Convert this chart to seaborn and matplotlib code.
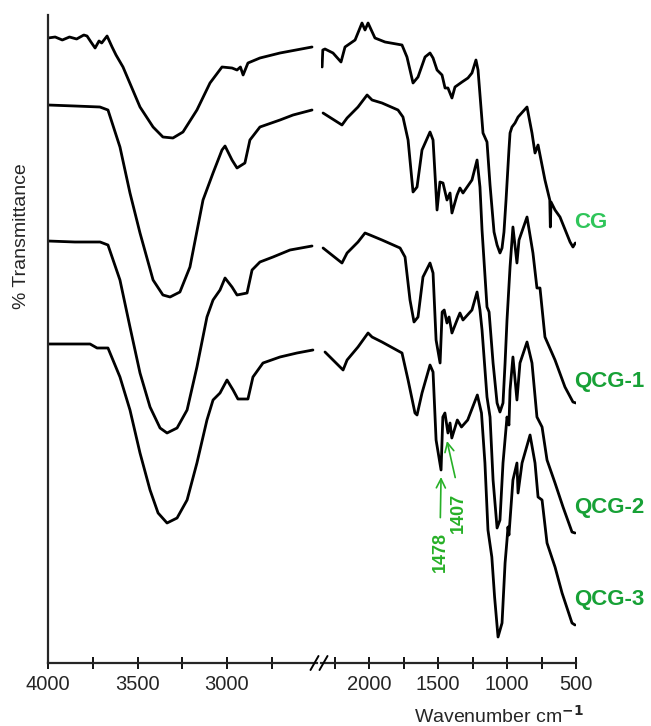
import numpy as np
import pandas as pd
import matplotlib
matplotlib.use('Agg')
import matplotlib.pyplot as plt
import seaborn as sns
from matplotlib.lines import Line2D

# FTIR spectra (wavenumber in cm-1, transmittance in arbitrary stacked units)
cg_wn = [4000, 3960, 3920, 3880, 3840, 3800, 3782, 3760, 3737, 3715, 3700, 3670, 3642, 3620, 3581,
         3486, 3413, 3358, 3302, 3246, 3168, 3095, 3028, 2972, 2944, 2925, 2910, 2883, 2816, 2704, 2525,
         2340, 2335, 2319, 2261, 2203, 2174, 2101, 2051, 2029, 2007, 1957, 1884, 1761, 1725, 1681, 1645,
         1594, 1558, 1536, 1507, 1471, 1449, 1428, 1399, 1377, 1326, 1283, 1254, 1225, 1210, 1174, 1145,
         1123, 1094, 1072, 1051, 1036, 1022, 1007, 986, 978, 964, 942, 920, 855, 819, 797, 775, 725, 690,
         686, 681, 652, 616, 543, 522, 505]
cg_t = [625, 626, 623, 626, 624, 628, 627, 621, 615, 622, 620, 627, 616, 608, 596,
        556, 536, 526, 525, 531, 553, 580, 596, 595, 593, 596, 588, 600, 605, 610, 616,
        596, 613, 614, 610, 601, 616, 623, 640, 633, 640, 625, 621, 618, 606, 580, 586,
        606, 610, 605, 593, 588, 575, 575, 565, 576, 581, 585, 590, 603, 593, 530, 521,
        478, 431, 418, 410, 415, 431, 463, 513, 530, 536, 540, 546, 556, 530, 510, 518, 483, 463,
        436, 461, 453, 446, 421, 416, 420]

qcg1_wn = [4000, 3850, 3710, 3665, 3598, 3542, 3486, 3413, 3358, 3318, 3263, 3207, 3134, 3078, 3028,
           3011, 2972, 2944, 2900, 2872, 2816, 2704, 2631, 2525,
           2333, 2196, 2159, 2080, 2014, 1978, 1906, 1790, 1754, 1717, 1681, 1652, 1616, 1558, 1536,
           1507, 1486, 1464, 1435, 1413, 1399, 1362, 1341, 1319, 1254, 1217, 1196, 1181, 1145, 1130,
           1101, 1072, 1051, 1029, 1014, 1000, 978, 957, 928, 913, 855, 812, 783, 761, 725, 652, 580,
           522, 500]
qcg1_t = [558, 557, 556, 553, 516, 470, 430, 383, 368, 366, 371, 396, 463, 490, 513,
          517, 503, 495, 500, 523, 536, 543, 548, 553,
          550, 538, 545, 556, 568, 563, 560, 553, 546, 523, 471, 476, 513, 531, 523,
          453, 481, 480, 463, 470, 450, 468, 475, 470, 483, 503, 476, 433, 356, 351,
          300, 260, 251, 260, 300, 343, 396, 436, 400, 423, 446, 410, 375, 375, 326, 303, 276,
          261, 260]

qcg2_wn = [4000, 3850, 3709, 3665, 3598, 3542, 3486, 3430, 3374, 3335, 3279, 3223, 3168, 3112, 3078,
           3039, 3011, 2972, 2944, 2888, 2860, 2816, 2743, 2648, 2525,
           2333, 2196, 2159, 2080, 2029, 1993, 1906, 1775, 1739, 1703, 1674, 1645, 1609, 1558, 1536,
           1514, 1485, 1470, 1455, 1435, 1420, 1399, 1362, 1341, 1319, 1254, 1217, 1196, 1181, 1145,
           1123, 1101, 1072, 1051, 1029, 1000, 986, 978, 957, 928, 906, 855, 819, 783, 746, 710, 652,
           594, 529, 507]
qcg2_t = [422, 421, 421, 418, 383, 336, 290, 256, 235, 230, 235, 253, 296, 346, 363,
          373, 385, 376, 368, 370, 393, 401, 406, 413, 417,
          415, 400, 410, 421, 430, 428, 423, 415, 406, 363, 341, 346, 386, 400, 390,
          323, 300, 351, 353, 340, 346, 330, 343, 350, 343, 353, 371, 353, 333, 266,
          246, 183, 135, 143, 200, 246, 238, 273, 306, 263, 300, 321, 300, 246, 236, 203, 180,
          156, 131, 130]

qcg3_wn = [4000, 3765, 3726, 3665, 3598, 3542, 3486, 3430, 3385, 3335, 3279, 3223, 3168, 3112, 3078,
           3039, 3000, 2966, 2939, 2883, 2855, 2799, 2704, 2609, 2520,
           2319, 2188, 2159, 2080, 2007, 1978, 1906, 1761, 1717, 1667, 1652, 1616, 1558, 1536, 1514,
           1478, 1465, 1450, 1428, 1413, 1400, 1360, 1330, 1285, 1215, 1185, 1160, 1138, 1110, 1090,
           1065, 1036, 1014, 1000, 993, 986, 957, 928, 920, 891, 833, 797, 775, 746, 710, 652, 601,
           529, 507]
qcg3_t = [319, 319, 315, 315, 286, 253, 210, 173, 150, 140, 145, 163, 200, 243, 263,
          270, 283, 273, 264, 264, 286, 300, 306, 310, 313,
          311, 293, 303, 316, 330, 326, 321, 310, 283, 250, 248, 270, 298, 291, 223,
          193, 246, 250, 230, 240, 225, 243, 236, 243, 268, 250, 200, 133, 106, 66,
          26, 40, 100, 123, 136, 128, 183, 200, 170, 200, 228, 200, 166, 163, 120, 96, 70,
          40, 38]

labels = ['CG', 'QCG-1', 'QCG-2', 'QCG-3']
label_t = [441, 282, 155, 63]
label_colors = ['#2fc55a', '#17a136', '#17a136', '#17a136']
peak_labels = ['1478', '1407']
peak_green = '#27b027'

sns.set_style('white')
plt.rcParams['font.family'] = ['Liberation Sans', 'DejaVu Sans']

fig = plt.figure(figsize=(6.51, 7.26), dpi=100)
W, H = 651, 726
ax_l = fig.add_axes([48 / W, 63 / H, 268.5 / W, 648 / H])
ax_r = fig.add_axes([321 / W, 63 / H, 255 / W, 648 / H], sharey=ax_l)

spectra = [(cg_wn, cg_t), (qcg1_wn, qcg1_t), (qcg2_wn, qcg2_t), (qcg3_wn, qcg3_t)]
for wn, t in spectra:
    df = pd.DataFrame({'wn': wn, 't': t})
    hi = df[df['wn'] > 2400]
    lo = df[df['wn'] <= 2400]
    sns.lineplot(data=hi, x='wn', y='t', ax=ax_l, color='black', lw=2.0,
                 estimator=None, sort=False)
    sns.lineplot(data=lo, x='wn', y='t', ax=ax_r, color='black', lw=2.0,
                 estimator=None, sort=False)

ax_l.set_xlim(4000, 2500)
ax_r.set_xlim(2348, 500)
ax_l.set_ylim(0, 648)

ax_l.set_xticks([4000, 3500, 3000])
ax_l.set_xticks([3750, 3250, 2750], minor=True)
ax_r.set_xticks([2000, 1500, 1000, 500])
ax_r.set_xticks([2250, 1750, 1250, 750], minor=True)

for ax in (ax_l, ax_r):
    ax.set_xlabel('')
    ax.set_ylabel('')
    ax.set_yticks([])
    ax.spines['top'].set_visible(False)
    ax.spines['right'].set_visible(False)
    ax.spines['bottom'].set_linewidth(1.6)
    ax.spines['left'].set_linewidth(1.6)
    ax.tick_params(axis='x', which='both', direction='inout', length=9, width=1.3,
                   labelsize=14.5, pad=4, bottom=True, color='black')
    ax.patch.set_alpha(0)
ax_r.spines['left'].set_visible(False)
ax_r.tick_params(axis='y', left=False, labelleft=False)

# break marks on the x axis
yb = 63 / H
for xc in (314.5, 323.5):
    fig.add_artist(Line2D([(xc - 4) / W, (xc + 4) / W], [yb - 7 / H, yb + 7 / H],
                          transform=fig.transFigure, color='black', lw=1.4))

# sample labels
for lab, ty, col in zip(labels, label_t, label_colors):
    ax_r.text(514, ty, lab, color=col, fontsize=16, fontweight='bold',
              ha='left', va='center', clip_on=False)

# peak annotations
ax_r.annotate(peak_labels[0], xy=(1478, 186), xytext=(1485, 131), rotation=90,
              ha='center', va='top', color=peak_green, fontsize=13, fontweight='bold',
              arrowprops=dict(arrowstyle='->,head_length=0.5,head_width=0.25', color=peak_green,
                              lw=1.2, shrinkA=8, shrinkB=0, relpos=(0.5, 1.0)))
ax_r.annotate(peak_labels[1], xy=(1435, 222), xytext=(1350, 170), rotation=90,
              ha='center', va='top', color=peak_green, fontsize=13, fontweight='bold',
              arrowprops=dict(arrowstyle='->,head_length=0.5,head_width=0.25', color=peak_green,
                              lw=1.2, shrinkA=9, shrinkB=0, relpos=(0.5, 1.0)))

fig.text(22 / W, 1 - 236 / H, '% Transmittance', rotation=90, fontsize=14,
         ha='center', va='center')
fig.text(499 / W, 1 - 716 / H, 'Wavenumber cm$^{\\mathbf{-1}}$', fontsize=14,
         ha='center', va='center')

fig.savefig('out.png', dpi=100)
